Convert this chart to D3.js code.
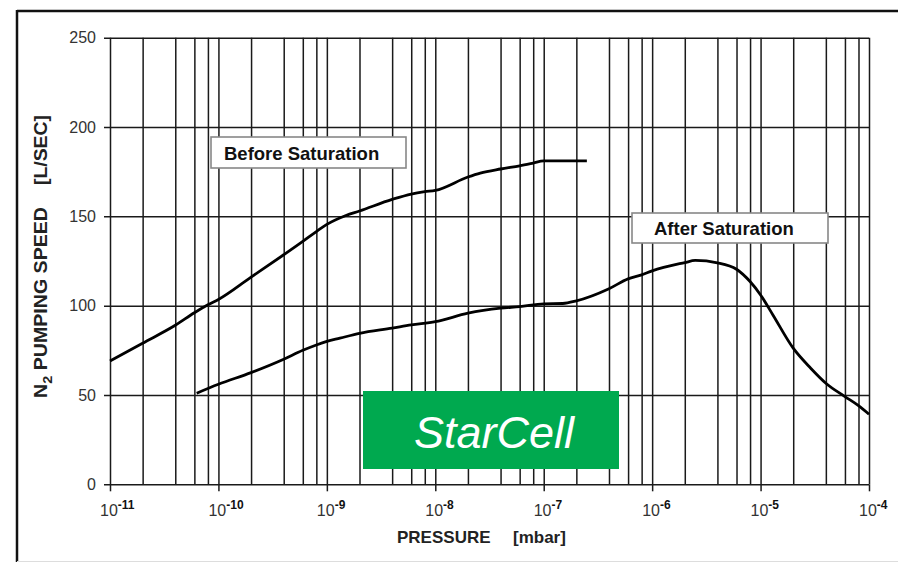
<!DOCTYPE html>
<html>
<head>
<meta charset="utf-8">
<script src="https://cdn.jsdelivr.net/npm/d3@7"></script>
<style>
  body { margin: 0; background: #fff; }
  svg { display: block; font-family: "Liberation Sans", Arial, sans-serif; }
</style>
</head>
<body>
<svg id="chart" width="898" height="562"></svg>
<script>
// values
var pressureBefore = [1e-11, 2e-11, 4e-11, 6e-11, 8e-11, 1e-10, 2e-10, 4e-10, 6e-10, 8e-10,
    1e-9, 1.5e-9, 2e-9, 4e-9, 6e-9, 8e-9, 1e-8, 2e-8, 2.6e-8, 4e-8, 6e-8, 8e-8, 1e-7, 2.5e-7];
var speedBefore = [69, 79, 89, 96, 100.5, 103.5, 116, 128.5, 136, 141.5,
    145.5, 150.5, 153, 159.5, 162.5, 163.8, 164.5, 172, 174.2, 176.5, 178.3, 179.8, 181, 181];

var pressureAfter = [6.3e-11, 1e-10, 2e-10, 4e-10, 6e-10, 8e-10, 1e-9, 1.32e-9, 2e-9, 4e-9, 6e-9,
    1e-8, 2e-8, 4e-8, 6e-8, 1e-7, 1.5e-7, 2e-7, 4e-7, 6e-7, 8e-7, 1e-6, 2e-6, 2.5e-6, 4e-6,
    6e-6, 8e-6, 1e-5, 1.3e-5, 2e-5, 2.9e-5, 4e-5, 6e-5, 8e-5, 1e-4];
var speedAfter = [51, 56, 62.5, 70, 75, 78, 80, 81.8, 84.5, 87.4, 89.2,
    91, 95.8, 98.6, 99.5, 101, 101.2, 102.7, 109.5, 115, 117.2, 119.5, 124.1, 125.3, 124,
    120.4, 113.5, 106, 94.8, 76.2, 65, 56.6, 49.1, 44, 39.2];

var decades = [-11, -10, -9, -8, -7, -6, -5, -4];
var gridSteps = [1, 2, 4, 6, 8];
var yTicks = [0, 50, 100, 150, 200, 250];

var svg = d3.select("#chart");

var x = d3.scaleLog().domain([1e-11, 1e-4]).range([110, 869]),
    y = d3.scaleLinear().domain([0, 250]).range([484.3, 37.7]);

// outer frame
svg.append("line").attr("x1", 17).attr("x2", 898).attr("y1", 11).attr("y2", 11)
    .attr("stroke", "#111").attr("stroke-width", 2.5);
svg.append("line").attr("x1", 17).attr("x2", 17).attr("y1", 10).attr("y2", 562)
    .attr("stroke", "#111").attr("stroke-width", 2.5);
svg.append("line").attr("x1", 17).attr("x2", 898).attr("y1", 561.5).attr("y2", 561.5)
    .attr("stroke", "#ddd").attr("stroke-width", 1);

// vertical grid (1,2,4,6,8 per decade)
var gridVals = [];
decades.forEach(function (e) {
    gridSteps.forEach(function (m) {
        var v = m * Math.pow(10, e);
        if (v <= 1.0001e-4) gridVals.push(v);
    });
});

svg.append("g")
    .attr("transform", "translate(0," + y(0) + ")")
    .call(d3.axisBottom(x).tickValues(gridVals).tickSizeInner(-(y(0) - y(250))).tickSizeOuter(0).tickFormat(""))
    .call(function (g) {
        g.select(".domain").remove();
        g.selectAll(".tick line").attr("stroke", "#1a1a1a").attr("stroke-width", 1.5);
    });

// decade ticks below the axis
svg.append("g")
    .attr("transform", "translate(0," + y(0) + ")")
    .call(d3.axisBottom(x).tickValues(decades.map(function (e) { return Math.pow(10, e); }))
        .tickSizeInner(7).tickSizeOuter(0).tickFormat(""))
    .call(function (g) {
        g.select(".domain").remove();
        g.selectAll(".tick line").attr("stroke", "#1a1a1a").attr("stroke-width", 1.5);
    });

// horizontal grid + y labels
svg.append("g")
    .attr("transform", "translate(110,0)")
    .call(d3.axisLeft(y).tickValues(yTicks).tickSizeInner(-(869 - 110)).tickSizeOuter(0).tickPadding(14))
    .call(function (g) {
        g.select(".domain").remove();
        g.selectAll(".tick line").attr("x1", -6).attr("stroke", "#1a1a1a").attr("stroke-width", 1.5);
        g.selectAll(".tick text")
            .attr("font-family", "Liberation Sans, Arial, sans-serif")
            .attr("font-size", "16px")
            .attr("fill", "#333");
    });

// x tick labels 10^n
var xl = svg.append("g").selectAll("text")
    .data(decades)
    .enter()
    .append("text")
    .attr("x", function (d) { return x(Math.pow(10, d)) - 10; })
    .attr("y", 516)
    .attr("font-size", "16px")
    .attr("fill", "#333");
xl.append("tspan").text("10");
xl.append("tspan")
    .attr("dy", -7)
    .attr("font-size", "12px")
    .attr("font-weight", "bold")
    .attr("fill", "#111")
    .text(function (d) { return "-" + (-d); });

// curves
var line = d3.line()
    .x(function (d) { return x(d[0]); })
    .y(function (d) { return y(d[1]); })
    .curve(d3.curveMonotoneX);

svg.append("path")
    .datum(d3.zip(pressureBefore, speedBefore))
    .attr("d", line)
    .attr("fill", "none")
    .attr("stroke", "#000")
    .attr("stroke-width", 2.8);

svg.append("path")
    .datum(d3.zip(pressureAfter, speedAfter))
    .attr("d", line)
    .attr("fill", "none")
    .attr("stroke", "#000")
    .attr("stroke-width", 2.8);

// label boxes
function labelBox(x0, y0, w, h, tx, ty, txt) {
    svg.append("rect")
        .attr("x", x0).attr("y", y0).attr("width", w).attr("height", h)
        .attr("fill", "#fff").attr("stroke", "#888").attr("stroke-width", 1.6);
    svg.append("text")
        .attr("x", tx).attr("y", ty)
        .attr("font-size", "18.5px")
        .attr("font-weight", "bold")
        .attr("fill", "#111")
        .text(txt);
}
labelBox(211, 137, 195, 31, 224, 160, "Before Saturation");
labelBox(632, 213, 196, 30, 654, 234.5, "After Saturation");

// StarCell badge
svg.append("rect")
    .attr("x", 363).attr("y", 391).attr("width", 256).attr("height", 78)
    .attr("fill", "#00a94f");
svg.append("text")
    .attr("x", 414).attr("y", 448)
    .attr("font-size", "45px")
    .attr("font-style", "italic")
    .attr("fill", "#fff")
    .text("StarCell");

// axis titles
svg.append("text")
    .attr("x", 397).attr("y", 543)
    .attr("font-size", "17px")
    .attr("font-weight", "bold")
    .attr("fill", "#222")
    .text("PRESSURE");
svg.append("text")
    .attr("x", 513).attr("y", 543)
    .attr("font-size", "17px")
    .attr("font-weight", "bold")
    .attr("fill", "#222")
    .text("[mbar]");

var yt = svg.append("text")
    .attr("transform", "translate(47,398) rotate(-90)")
    .attr("font-size", "17.5px")
    .attr("font-weight", "bold")
    .attr("fill", "#222")
    .attr("textLength", 191)
    .attr("lengthAdjust", "spacingAndGlyphs");
yt.append("tspan").text("N");
yt.append("tspan").attr("dy", 5).attr("font-size", "13px").text("2");
yt.append("tspan").attr("dy", -5).text(" PUMPING SPEED");

svg.append("text")
    .attr("transform", "translate(47,115) rotate(-90)")
    .attr("text-anchor", "end")
    .attr("font-size", "17.5px")
    .attr("font-weight", "bold")
    .attr("fill", "#222")
    .attr("textLength", 70)
    .attr("lengthAdjust", "spacingAndGlyphs")
    .text("[L/SEC]");
</script>
</body>
</html>
